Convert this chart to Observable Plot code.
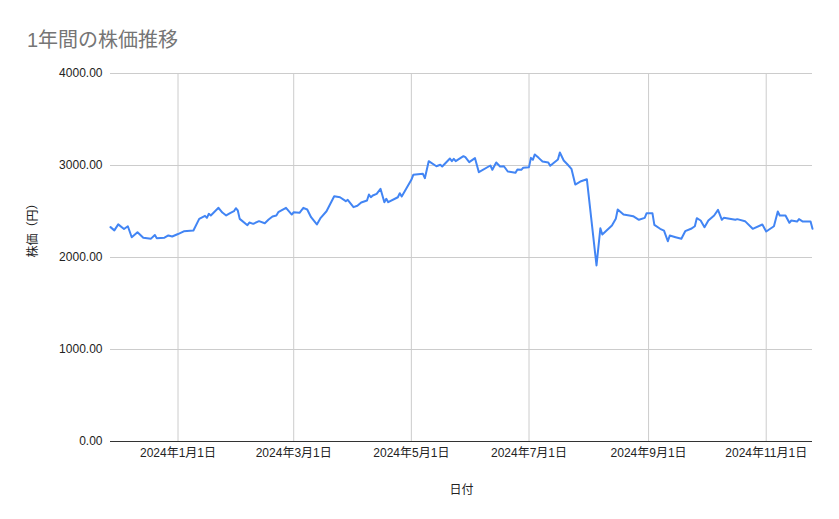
<!DOCTYPE html>
<html>
<head>
<meta charset="utf-8">
<script src="https://cdn.jsdelivr.net/npm/d3@7"></script>
<script src="https://cdn.jsdelivr.net/npm/@observablehq/plot@0.6"></script>
<style>
  html, body { margin: 0; padding: 0; background: #fff; }
  #wrap { position: relative; width: 839px; height: 519px; font-family: "Liberation Sans", Arial, "Noto Sans CJK JP", sans-serif; }
  #title { position: absolute; left: 27px; top: 24px; font-size: 20px; color: #757575; white-space: nowrap; }
</style>
</head>
<body>
<div id="wrap">
  <div id="title">1年間の株価推移</div>
</div>
<script>
const dates = [
  "2023-11-27","2023-11-29","2023-12-01","2023-12-04","2023-12-06","2023-12-08","2023-12-11","2023-12-14","2023-12-18","2023-12-20",
  "2023-12-21","2023-12-25","2023-12-27","2023-12-29","2024-01-01","2024-01-04","2024-01-09","2024-01-12","2024-01-15","2024-01-16",
  "2024-01-17","2024-01-18","2024-01-22","2024-01-24","2024-01-26","2024-01-28","2024-01-30","2024-01-31","2024-02-01","2024-02-02",
  "2024-02-06","2024-02-07","2024-02-09","2024-02-12","2024-02-15","2024-02-17","2024-02-19","2024-02-21","2024-02-22","2024-02-26",
  "2024-02-29","2024-03-01","2024-03-04","2024-03-06","2024-03-08","2024-03-10","2024-03-13","2024-03-15","2024-03-18","2024-03-22",
  "2024-03-25","2024-03-28","2024-03-29","2024-04-01","2024-04-03","2024-04-05","2024-04-08","2024-04-09","2024-04-10","2024-04-11",
  "2024-04-13","2024-04-15","2024-04-17","2024-04-18","2024-04-19","2024-04-24","2024-04-25","2024-04-26","2024-05-01","2024-05-02",
  "2024-05-07","2024-05-08","2024-05-10","2024-05-14","2024-05-16","2024-05-17","2024-05-21","2024-05-22","2024-05-23","2024-05-24",
  "2024-05-28","2024-05-29","2024-05-31","2024-06-03","2024-06-05","2024-06-11","2024-06-12","2024-06-14","2024-06-16","2024-06-18",
  "2024-06-20","2024-06-24","2024-06-25","2024-06-27","2024-06-28","2024-07-01","2024-07-02","2024-07-03","2024-07-04","2024-07-06",
  "2024-07-08","2024-07-11","2024-07-12","2024-07-16","2024-07-17","2024-07-19","2024-07-21","2024-07-23","2024-07-25","2024-07-28",
  "2024-07-31","2024-08-05","2024-08-07","2024-08-08","2024-08-13","2024-08-15","2024-08-16","2024-08-19","2024-08-22","2024-08-24",
  "2024-08-27","2024-08-30","2024-08-31","2024-09-03","2024-09-04","2024-09-07","2024-09-09","2024-09-11","2024-09-12","2024-09-15",
  "2024-09-18","2024-09-20","2024-09-23","2024-09-25","2024-09-26","2024-09-28","2024-09-30","2024-10-02","2024-10-05","2024-10-07",
  "2024-10-09","2024-10-10","2024-10-16","2024-10-17","2024-10-21","2024-10-25","2024-10-30","2024-11-01","2024-11-05","2024-11-07",
  "2024-11-08","2024-11-11","2024-11-13","2024-11-14","2024-11-17","2024-11-18","2024-11-20","2024-11-24","2024-11-25"
];
const prices = [
  2330,2295,2360,2310,2340,2220,2275,2215,2205,2245,
  2210,2215,2240,2228,2255,2285,2293,2420,2453,2431,
  2475,2457,2540,2489,2457,2482,2503,2536,2511,2420,
  2351,2380,2366,2395,2373,2413,2446,2457,2492,2540,
  2467,2492,2486,2540,2522,2438,2359,2431,2503,2666,
  2655,2612,2627,2547,2562,2598,2620,2685,2655,2674,
  2692,2747,2601,2638,2601,2655,2699,2663,2844,2899,
  2910,2862,3047,2992,3008,2989,3076,3047,3073,3047,
  3101,3090,3036,3080,2927,3000,2953,3033,2989,2992,
  2935,2921,2957,2953,2975,2982,3083,3062,3120,3083,
  3043,3033,2997,3065,3141,3054,3011,2964,2793,2829,
  2851,1913,2318,2250,2348,2420,2522,2467,2457,2449,
  2410,2431,2482,2482,2355,2312,2293,2177,2239,2221,
  2203,2286,2312,2340,2427,2402,2329,2402,2457,2518,
  2410,2431,2410,2417,2395,2312,2359,2283,2340,2500,
  2457,2457,2377,2402,2391,2417,2391,2391,2312
];
const xTicks = ["2024-01-01","2024-03-01","2024-05-01","2024-07-01","2024-09-01","2024-11-01"];
const yTicks = [0, 1000, 2000, 3000, 4000];
const titleText = "1年間の株価推移";
const xLabel = "日付";
const yLabel = "株価（円）";

const parse = d3.utcParse("%Y-%m-%d");
const data = dates.map((d, i) => ({date: parse(d), price: prices[i]}));
const tickDates = xTicks.map(parse);
const fmtDate = d => `${d.getUTCFullYear()}年${d.getUTCMonth() + 1}月${d.getUTCDate()}日`;

const chart = Plot.plot({
  width: 839,
  height: 519,
  marginTop: 73,
  marginBottom: 78,
  marginLeft: 110,
  marginRight: 27,
  style: {fontFamily: '"Liberation Sans", Arial, "Noto Sans CJK JP", sans-serif', fontSize: "12px", color: "#222", background: "transparent"},
  x: {type: "utc", domain: [data[0].date, data[data.length - 1].date]},
  y: {domain: [0, 4000]},
  marks: [
    Plot.gridY(yTicks, {stroke: "#cccccc", strokeOpacity: 1}),
    Plot.gridX(tickDates, {stroke: "#cccccc", strokeOpacity: 1}),
    Plot.ruleY([0], {stroke: "#333333", strokeWidth: 1}),
    Plot.axisY(yTicks, {tickSize: 0, tickPadding: 8, tickFormat: d3.format(".2f"), label: null, fontSize: 12, fill: "#222"}),
    Plot.axisX(tickDates, {tickSize: 0, tickPadding: 7, tickFormat: fmtDate, label: null, fontSize: 12, fill: "#222"}),
    Plot.lineY(data, {x: "date", y: "price", stroke: "#4285f4", strokeWidth: 2, strokeLinejoin: "round"}),
    Plot.text([xLabel], {frameAnchor: "bottom", dy: 52, fontSize: 12, fill: "#222"}),
    Plot.text([yLabel], {frameAnchor: "left", dx: -77, rotate: -90, fontSize: 12, fill: "#222"})
  ]
});
chart.style.position = "absolute";
chart.style.left = "0";
chart.style.top = "0";
document.getElementById("wrap").appendChild(chart);
document.getElementById("title").textContent = titleText;
</script>
</body>
</html>
